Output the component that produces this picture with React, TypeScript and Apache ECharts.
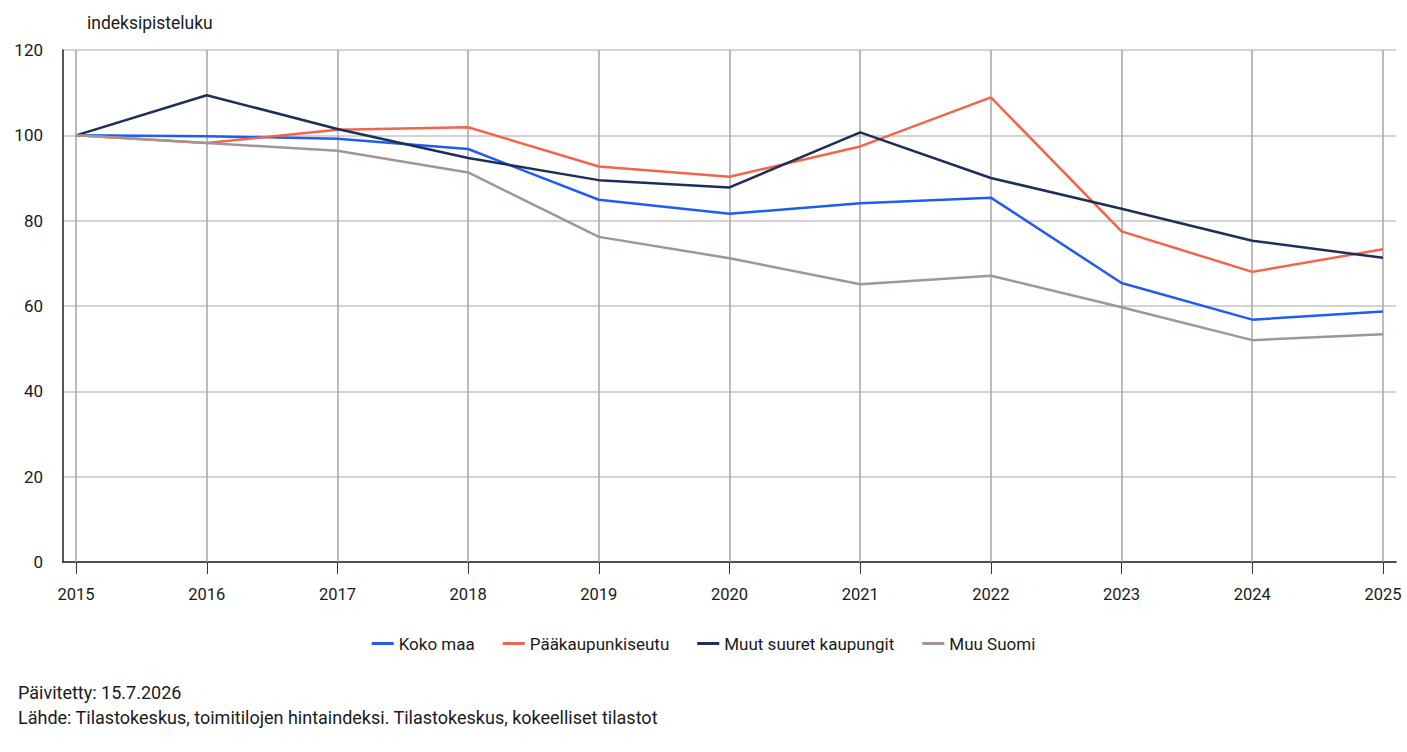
import React, { useEffect, useRef } from "react";
import * as echarts from "echarts";

const years = [2015, 2016, 2017, 2018, 2019, 2020, 2021, 2022, 2023, 2024, 2025];
const kokoMaa = [100, 99.8, 99.2, 96.8, 84.9, 81.6, 84.1, 85.4, 65.4, 56.8, 58.7];
const paakaupunkiseutu = [100, 98.2, 101.3, 101.9, 92.7, 90.3, 97.4, 108.9, 77.5, 68.0, 73.3];
const muutSuuret = [100, 109.4, 101.5, 94.7, 89.5, 87.8, 100.7, 90.0, 82.8, 75.3, 71.3];
const muuSuomi = [100, 98.2, 96.4, 91.3, 76.2, 71.2, 65.1, 67.1, 59.7, 52.0, 53.4];
const yTicks = [0, 20, 40, 60, 80, 100, 120];

const FONT = "'Roboto', 'Noto Sans', sans-serif";
const TEXT = "#1a1a1a";

const seriesDefs = [
  { name: "Koko maa", data: kokoMaa, color: "#1f5cf2" },
  { name: "Pääkaupunkiseutu", data: paakaupunkiseutu, color: "#f2644b" },
  { name: "Muut suuret kaupungit", data: muutSuuret, color: "#1d2e5a" },
  { name: "Muu Suomi", data: muuSuomi, color: "#a39591" },
];

export default function App() {
  const ref = useRef<HTMLDivElement>(null);

  useEffect(() => {
    if (!ref.current) return;
    const chart = echarts.init(ref.current, undefined, { renderer: "svg" });
    chart.setOption({
      animation: false,
      textStyle: { fontFamily: FONT },
      grid: { left: 63, right: 11, top: 50, bottom: 190, containLabel: false },
      legend: {
        bottom: 95,
        left: "center",
        itemWidth: 22,
        itemHeight: 3,
        itemGap: 28,
        icon: "rect",
        textStyle: { fontFamily: FONT, fontSize: 17, color: TEXT },
        data: seriesDefs.map((s) => s.name),
      },
      xAxis: {
        type: "value",
        min: 2014.9,
        max: 2025.1,
        axisLine: { show: true, lineStyle: { color: "#222", width: 1.5 } },
        axisTick: {
          show: true,
          customValues: years,
          length: 12,
          lineStyle: { color: "#333", width: 1 },
        },
        axisLabel: {
          customValues: years,
          fontFamily: FONT,
          fontSize: 16.5,
          color: TEXT,
          margin: 24,
          formatter: (v: number) => String(Math.round(v)),
        },
        splitLine: { show: false },
      },
      yAxis: {
        type: "value",
        min: 0,
        max: 120,
        interval: 20,
        name: "indeksipisteluku",
        nameLocation: "end",
        nameGap: 18,
        nameTextStyle: { fontFamily: FONT, fontSize: 17.5, color: TEXT, align: "left", padding: [0, 0, 0, 24] },
        axisLine: { show: true, lineStyle: { color: "#222", width: 1.5 } },
        axisTick: { show: false },
        axisLabel: {
          customValues: yTicks,
          fontFamily: FONT,
          fontSize: 17,
          color: TEXT,
          margin: 20,
        },
        splitLine: { show: true, lineStyle: { color: "#c4c4c4", width: 1.5 } },
      },
      series: [
        ...seriesDefs.map((s, i) => ({
          name: s.name,
          type: "line",
          symbol: "none",
          data: years.map((y, k) => [y, s.data[k]]),
          lineStyle: { color: s.color, width: 2.5 },
          itemStyle: { color: s.color },
          z: 3 + i,
          markLine:
            i === 0
              ? {
                  silent: true,
                  symbol: ["none", "none"],
                  label: { show: false },
                  lineStyle: { color: "#aaa5a5", width: 1.5, type: "solid" },
                  data: years.map((y) => ({ xAxis: y })),
                  z: 1,
                }
              : undefined,
        })),
      ],
      graphic: [
        {
          type: "text",
          left: 18,
          top: 683,
          style: { text: "Päivitetty: 15.7.2026", font: `18px ${FONT}`, fill: TEXT },
        },
        {
          type: "text",
          left: 18,
          top: 708,
          style: {
            text: "Lähde: Tilastokeskus, toimitilojen hintaindeksi. Tilastokeskus, kokeelliset tilastot",
            font: `18px ${FONT}`,
            fill: TEXT,
          },
        },
      ],
    });
    return () => chart.dispose();
  }, []);

  return (
    <div
      ref={ref}
      style={{ position: "absolute", left: 0, top: 0, width: 1407, height: 752 }}
    />
  );
}
